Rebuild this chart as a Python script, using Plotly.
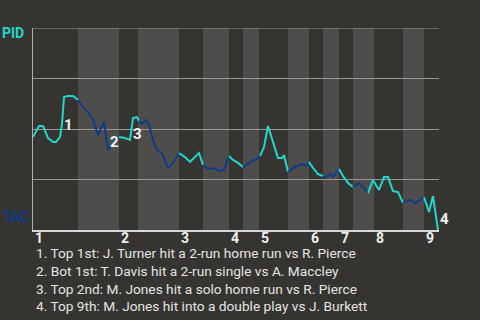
import plotly.graph_objects as go

# Win probability (PID) after each play, x = play progress index
wp_x = [0, 1.2, 2, 3, 4, 4.6, 5.4, 5.8, 6.2, 7, 8, 9,
        10, 11, 12, 13, 14.2, 15, 16.4, 17.2,
        18.4, 19.4, 20, 20.8, 21.2,
        21.8, 22.6, 23.2, 24, 24.8, 25.8, 27, 28, 29.2,
        30.4, 31.4, 33.2, 34,
        35, 36, 36.8, 37.4, 38.2, 39.2,
        40, 41, 42,
        42.8, 43.8, 45, 45.4,
        46.2, 47, 47.8, 49, 49.8, 50.2, 51,
        52.4, 53.8, 54.8, 55.2,
        56, 57, 58,
        58.4, 59.4, 60, 61.2,
        62, 63, 64,
        65.2, 66, 67,
        68, 69.2, 70.2, 71, 72, 73, 74,
        75.4, 76.4, 77.2, 78.2,
        79.2, 80, 81]
wp_y = [0.460, 0.515, 0.515, 0.455, 0.436, 0.436, 0.460, 0.525, 0.658, 0.663, 0.663, 0.644,
        0.609, 0.584, 0.545, 0.470, 0.535, 0.396, 0.436, 0.460,
        0.455, 0.446, 0.554, 0.559, 0.540,
        0.525, 0.545, 0.520, 0.446, 0.396, 0.381, 0.307, 0.332, 0.381,
        0.361, 0.337, 0.381, 0.322,
        0.302, 0.307, 0.297, 0.292, 0.297, 0.366,
        0.347, 0.332, 0.312,
        0.327, 0.342, 0.356, 0.366,
        0.411, 0.515, 0.455, 0.356, 0.356, 0.371, 0.287,
        0.312, 0.327, 0.317, 0.337,
        0.307, 0.277, 0.267,
        0.257, 0.277, 0.262, 0.302,
        0.267, 0.233, 0.213,
        0.233, 0.213, 0.183,
        0.248, 0.198, 0.262, 0.262, 0.193, 0.188, 0.134,
        0.149, 0.134, 0.144, 0.163,
        0.089, 0.168, 0.0]
# index of last play in each half-inning
half_end_idx = [11, 19, 24, 33, 37, 43, 46, 50, 57, 61, 64, 68, 71, 74, 81, 85, 88]
# half-inning start positions (band boundaries)
half_starts = [0, 9, 17.2, 21, 29.2, 34, 39.2, 42, 45.2, 51, 55.2, 58, 61.2, 64, 68.2, 74, 78.2]
x_end = 81.2
innings = ["1", "2", "3", "4", "5", "6", "7", "8", "9"]

# key events: index of play, label
event_idx = [7, 17, 21, 88]
event_labels = ["1", "2", "3", "4"]
event_text = [
    "1. Top 1st: J. Turner hit a 2-run home run vs R. Pierce",
    "2. Bot 1st: T. Davis hit a 2-run single vs A. Maccley",
    "3. Top 2nd: M. Jones hit a solo home run vs R. Pierce",
    "4. Top 9th: M. Jones hit into a double play vs J. Burkett",
]

BG = "#363430"
BAND = "#4e4d4b"
CYAN = "#1fd8cc"
BLUE = "#0c3c8c"
GRID = "#9a9894"
FONT = "Roboto"

fig = go.Figure()

start = 0
for h, end in enumerate(half_end_idx):
    color = CYAN if h % 2 == 0 else BLUE
    fig.add_trace(go.Scatter(
        x=wp_x[start:end + 1], y=wp_y[start:end + 1], mode="lines",
        line=dict(color=color, width=2), hoverinfo="skip", showlegend=False))
    start = end

shapes = []
bounds = half_starts + [x_end]
for h in range(len(half_starts)):
    if h % 2 == 1:
        shapes.append(dict(type="rect", xref="x", yref="paper", x0=bounds[h], x1=bounds[h + 1],
                           y0=0, y1=1, fillcolor=BAND, line=dict(width=0), layer="below"))
# top border line (grid at 100%)
shapes.append(dict(type="line", xref="paper", yref="y", x0=0, x1=1, y0=1, y1=1,
                   line=dict(color=GRID, width=1), layer="between"))

annotations = []
# inning labels
for i, lab in enumerate(innings):
    annotations.append(dict(x=half_starts[2 * i], y=0, xref="x", yref="paper", text=lab,
                            showarrow=False, xanchor="left", yanchor="top", xshift=0, yshift=2,
                            font=dict(family=FONT, size=14, color="#eeeeee", weight="bold")))
# event labels
shifts = [(0, -1), (0, 8), (1, 6), (0, 11)]
for k, (idx, lab) in enumerate(zip(event_idx, event_labels)):
    annotations.append(dict(x=wp_x[idx], y=wp_y[idx], xref="x", yref="y", text=lab,
                            showarrow=False, xanchor="left", yanchor="middle",
                            xshift=shifts[k][0], yshift=shifts[k][1],
                            font=dict(family=FONT, size=15, color="#f2f2f2", weight="bold")))
# team labels
annotations.append(dict(x=0, y=1, xref="paper", yref="paper", text="PID", showarrow=False,
                        xanchor="right", yanchor="middle", xshift=-7, yshift=-5,
                        font=dict(family=FONT, size=14, color=CYAN, weight="bold")))
annotations.append(dict(x=0, y=0, xref="paper", yref="paper", text="TAC", showarrow=False,
                        xanchor="right", yanchor="middle", xshift=-2, yshift=13,
                        font=dict(family=FONT, size=14, color=BLUE, weight="bold")))
# event descriptions
annotations.append(dict(x=0, y=0, xref="paper", yref="paper", text="<br>".join(event_text),
                        showarrow=False, xanchor="left", yanchor="top", align="left",
                        xshift=1, yshift=-13,
                        font=dict(family=FONT, size=13.7, color="#e4e4e4")))

fig.update_layout(
    width=480, height=320,
    margin=dict(l=33, r=41, t=28, b=90),
    paper_bgcolor=BG, plot_bgcolor=BG,
    shapes=shapes, annotations=annotations,
    xaxis=dict(range=[0, x_end], showgrid=False, zeroline=False, showticklabels=False,
               showline=True, linecolor="#d8d8d8", linewidth=2, fixedrange=True),
    yaxis=dict(range=[0, 1], tickvals=[0.25, 0.5, 0.75], showticklabels=False,
               gridcolor=GRID, gridwidth=1, zeroline=False,
               showline=True, linecolor="#b0aeaa", linewidth=1, fixedrange=True),
    font=dict(family=FONT),
)

fig.write_html("out.html")
